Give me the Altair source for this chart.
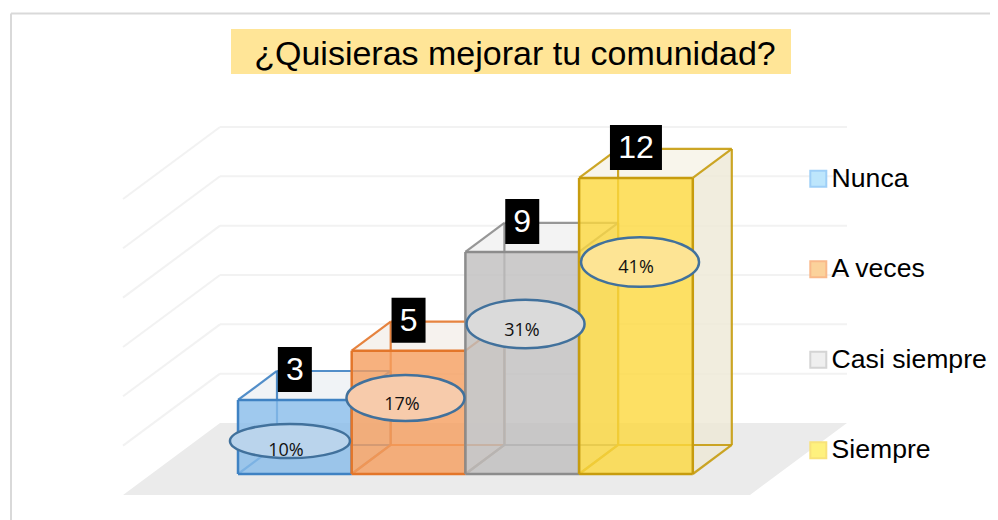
import altair as alt
import pandas as pd

# ---- chart values ----
categories = ["Nunca", "A veces", "Casi siempre", "Siempre"]
counts = [3, 5, 9, 12]
percents = ["10%", "17%", "31%", "41%"]
grid_values = [2, 4, 6, 8, 10, 12]
title_text = "¿Quisieras mejorar tu comunidad?"

# ---- styling per category ----
front_fill = ["#87BBEA", "#F59D5E", "#BFBEBE", "#FCD83D"]
edge_color = ["#3F82C3", "#E3762A", "#8C8C8C", "#C79C0E"]
top_fill = ["#EDF1F5", "#F5F0EB", "#F1F1F1", "#F7F3E8"]
side_fill = ["#DCE8F2", "#F3E6DB", "#E6E6E6", "#EDE8D6"]
legend_fill = ["#BDE6FC", "#FBD29B", "#EFEFEF", "#FEF17E"]
legend_edge = ["#9ECFF7", "#F9B98A", "#D4D4D4", "#F8E27A"]
ellipse_fill = ["#BAD4EC", "#F7CBAB", "#DADADA", "#FDE494"]

# ---- label placement in data units (bar index, count) ----
ellipse_x = [0.457, 1.473, 2.529, 3.536]
ellipse_y = [1.338, 3.081, 6.08, 8.593]
ellipse_ratio = [0.285, 0.39, 0.41, 0.42]
ellipse_width = [120, 118, 118, 118]
pct_x = [0.422, 1.442, 2.498, 3.501]
pct_y = [0.932, 2.797, 5.797, 8.35]

# ---- projection of the pseudo 3-D box ----
DX, DY = 0.343, 1.176           # depth of a bar
FLOOR_FRONT, FLOOR_BACK = -0.851, 2.067
FLOOR_LEFT_F, FLOOR_LEFT_B = -1.011, -0.158
FLOOR_RIGHT_F, FLOOR_RIGHT_B = 4.503, 5.356
UX, UY = 113.7, 24.67           # px per data unit, used for box label sizes
W, H, PT = 982, 438, 74

xs = alt.Scale(domain=[(8 - 238) / UX, (990 - 238) / UX], range=[0, W], nice=False, zero=False)
ys = alt.Scale(domain=[(474 - 520) / UY, (474 - 82) / UY], range=[H, 0], nice=False, zero=False)


def X(f="x"):
    return alt.X(f + ":Q", scale=xs, axis=None)


def Y(f="y"):
    return alt.Y(f + ":Q", scale=ys, axis=None)


def screen_y(s):
    return s - 8 - PT


layers = []

# frame (left and top edges of the picture box)
layers.append(alt.Chart(pd.DataFrame({"a": [0]})).mark_rule(color="#D9D9D9", strokeWidth=2).encode(
    x=alt.value(3), x2=alt.value(W), y=alt.value(screen_y(13.5)), y2=alt.value(screen_y(13.5))))
layers.append(alt.Chart(pd.DataFrame({"a": [0]})).mark_rule(color="#D9D9D9", strokeWidth=2).encode(
    x=alt.value(3), x2=alt.value(3), y=alt.value(screen_y(13.5)), y2=alt.value(H)))
# title band
layers.append(alt.Chart(pd.DataFrame({"a": [0]})).mark_rect(color="#FFE597").encode(
    x=alt.value(223), x2=alt.value(783), y=alt.value(screen_y(29)), y2=alt.value(screen_y(74))))

# floor
floor = pd.DataFrame({"y": [FLOOR_FRONT, FLOOR_BACK], "x": [FLOOR_LEFT_F, FLOOR_LEFT_B],
                      "x2": [FLOOR_RIGHT_F, FLOOR_RIGHT_B]})
layers.append(alt.Chart(floor).mark_area(orient="horizontal", color="#EBEBEB").encode(
    y=Y(), x=X(), x2="x2:Q"))

# grid: side wall and back wall
grid = pd.DataFrame({"v": grid_values})
side_grid = alt.Chart(grid).transform_calculate(
    x=f"{FLOOR_LEFT_F}", x2=f"{FLOOR_LEFT_B}",
    y=f"datum.v + {FLOOR_FRONT}", y2=f"datum.v + {FLOOR_BACK}",
).mark_rule(color="#F2F2F2", strokeWidth=2).encode(x=X(), x2="x2:Q", y=Y(), y2="y2:Q")
back_grid = alt.Chart(grid).transform_calculate(
    x=f"{FLOOR_LEFT_B}", x2=f"{FLOOR_RIGHT_B}", y=f"datum.v + {FLOOR_BACK}",
).mark_rule(color="#F2F2F2", strokeWidth=2).encode(x=X(), x2="x2:Q", y=Y())
layers += [side_grid, back_grid]

# bars, left to right
for i, (cat, v) in enumerate(zip(categories, counts)):
    col = edge_color[i]
    side = pd.DataFrame({"x": [i + 1, i + 1 + DX], "y": [0, DY], "y2": [v, v + DY]})
    top = pd.DataFrame({"y": [v, v + DY], "x": [i, i + DX], "x2": [i + 1, i + 1 + DX]})
    front = pd.DataFrame({"x": [i], "x2": [i + 1], "y": [0], "y2": [v], "category": [cat]})
    back_edges = pd.DataFrame({
        "x":  [i, i + DX, i + DX, i + 1, i + 1 + DX, i + DX, i, i + 1],
        "x2": [i + DX, i + DX, i + 1 + DX, i + 1 + DX, i + 1 + DX, i + 1 + DX, i + DX, i + 1 + DX],
        "y":  [0, DY, DY, 0, DY, v + DY, v, v],
        "y2": [DY, v + DY, DY, DY, v + DY, v + DY, v + DY, v + DY],
    })
    front_edges = pd.DataFrame({
        "x":  [i, i, i + 1, i],
        "x2": [i + 1, i + 1, i + 1, i],
        "y":  [0, v, 0, 0],
        "y2": [0, v, v, v],
    })
    layers.append(alt.Chart(side).mark_area(orient="vertical", color=side_fill[i], opacity=0.8).encode(
        x=X(), y=Y(), y2="y2:Q"))
    layers.append(alt.Chart(top).mark_area(orient="horizontal", color=top_fill[i], opacity=0.85).encode(
        y=Y(), x=X(), x2="x2:Q"))
    layers.append(alt.Chart(back_edges).mark_rule(color=col, strokeWidth=2.2, opacity=0.9).encode(
        x=X(), x2="x2:Q", y=Y(), y2="y2:Q"))
    layers.append(alt.Chart(front).mark_rect(color=front_fill[i], opacity=0.8).encode(
        x=X(), x2="x2:Q", y=Y(), y2="y2:Q"))
    layers.append(alt.Chart(front_edges).mark_rule(color=col, strokeWidth=2.5).encode(
        x=X(), x2="x2:Q", y=Y(), y2="y2:Q"))

# legend carrier
legend_df = pd.DataFrame({"category": categories, "x": [i + 0.5 for i in range(4)], "y": [c / 2 for c in counts]})
layers.append(alt.Chart(legend_df).mark_square(opacity=0, size=10).encode(
    x=X(), y=Y(),
    fill=alt.Fill("category:N", sort=categories, scale=alt.Scale(domain=categories, range=legend_fill),
                  legend=alt.Legend(title=None, orient="none", legendX=797, legendY=screen_y(165.5),
                                    symbolType="square", symbolSize=256, symbolStrokeWidth=2,
                                    symbolOpacity=1, labelFont="Liberation Sans", labelFontSize=26.6,
                                    labelColor="#000000", labelOffset=0, rowPadding=63.5, labelLimit=300)),
    stroke=alt.Stroke("category:N", sort=categories, scale=alt.Scale(domain=categories, range=legend_edge), legend=None),
))

# value boxes and counts
box = pd.DataFrame({"i": range(4), "count": counts})
box["label"] = box["count"].astype(str)
box["xc"] = box["i"] + 0.5
box["yc"] = box["count"] + 30.5 / UY
box["half"] = (16 + 18 * box["label"].str.len()) / 2 / UX
box["x"] = box["xc"] - box["half"]
box["x2"] = box["xc"] + box["half"]
box["y"] = box["yc"] - 22.5 / UY
box["y2"] = box["yc"] + 22.5 / UY
layers.append(alt.Chart(box).mark_rect(color="#000000").encode(x=X(), x2="x2:Q", y=Y(), y2="y2:Q"))

# ellipses with percentages
for i in range(4):
    path = f"M-1,0A1,{ellipse_ratio[i]} 0 1,1 1,0A1,{ellipse_ratio[i]} 0 1,1 -1,0Z"
    e = pd.DataFrame({"x": [ellipse_x[i]], "y": [ellipse_y[i]]})
    layers.append(alt.Chart(e).mark_point(shape=path, filled=True, fill=ellipse_fill[i], stroke="#41719C",
                                          strokeWidth=2.5, opacity=1, size=ellipse_width[i] ** 2).encode(x=X(), y=Y()))

layers.append(alt.Chart(box).mark_text(color="#FFFFFF", font="Liberation Sans", fontSize=32, baseline="middle", dy=1).encode(
    x=X("xc"), y=Y("yc"), text="label:N"))

pct = pd.DataFrame({"x": pct_x, "y": pct_y, "label": percents})
layers.append(alt.Chart(pct).mark_text(color="#111111", font="Open Sans", fontSize=18, baseline="middle").encode(
    x=X(), y=Y(), text="label:N"))

chart = alt.layer(*layers).properties(
    width=W, height=H,
    title=alt.TitleParams(title_text, font="Liberation Sans", fontSize=34, fontWeight="normal", color="#000000",
                          anchor="middle", dx=16, offset=-93, baseline="bottom"),
    padding={"left": 0, "top": PT, "right": 0, "bottom": 0},
    autosize=alt.AutoSizeParams(type="none"),
).configure_view(stroke=None).resolve_scale(x="shared", y="shared")

chart.save("out.html", embed_options={"renderer": "svg", "actions": False})
